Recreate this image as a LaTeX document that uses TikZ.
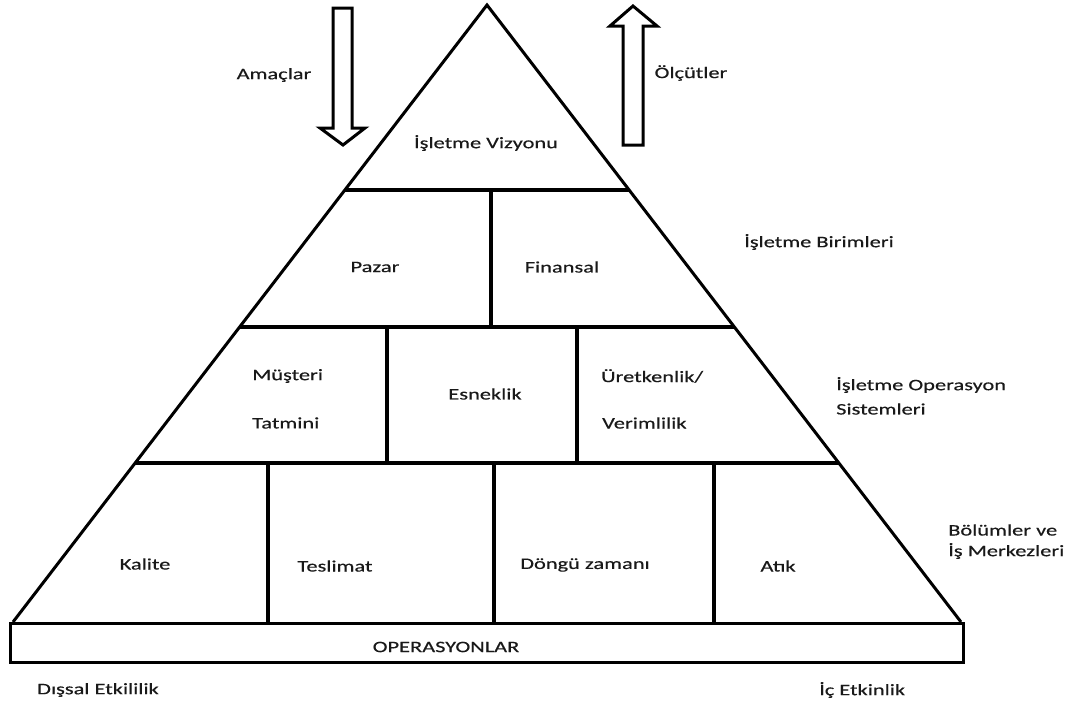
\documentclass[tikz,border=0pt]{standalone}
\usepackage{fontspec}
\setmainfont{Carlito}[FakeStretch=1.4,FakeBold=0.4]
\usetikzlibrary{calc}
\definecolor{ink}{RGB}{25,25,25}
\begin{document}
\begin{tikzpicture}[x=1pt,y=-1pt,
  outline/.style={line width=3pt,line join=miter},
  divider/.style={line width=4pt},
  hollowarrow/.style={line width=3pt,line join=miter,fill=white},
  lbl/.style={inner sep=0pt,text=ink,font=\fontsize{16}{19}\selectfont},
  lblw/.style={lbl,anchor=west}]
\useasboundingbox (0,0) rectangle (1080,704);

% pyramid corners
\coordinate (apex) at (487,5);
\coordinate (bl) at (13,622);
\coordinate (br) at (961,622);

% tier edges on both sides
\coordinate (l1) at ($(apex)!0.2998!(bl)$);
\coordinate (r1) at ($(apex)!0.2998!(br)$);
\coordinate (l2) at ($(apex)!0.5219!(bl)$);
\coordinate (r2) at ($(apex)!0.5219!(br)$);
\coordinate (l3) at ($(apex)!0.7423!(bl)$);
\coordinate (r3) at ($(apex)!0.7423!(br)$);

% operations base
\draw[outline] (10,623) rectangle (963,662);

% pyramid outline
\draw[outline] (bl) -- (apex) -- (br);

% tier separators
\draw[divider] (l1) -- (r1);
\draw[divider] (l2) -- (r2);
\draw[divider] (l3) -- (r3);

% cell separators
\coordinate (d1t) at (491,190); \coordinate (d1b) at (491,327);
\coordinate (d2t) at (387,327); \coordinate (d2b) at (387,463);
\coordinate (d3t) at (577,327); \coordinate (d3b) at (577,463);
\coordinate (d4t) at (268,463); \coordinate (d4b) at (268,622);
\coordinate (d5t) at (494,463); \coordinate (d5b) at (494,622);
\coordinate (d6t) at (714,463); \coordinate (d6b) at (714,622);
\foreach \i in {1,...,6} \draw[divider] (d\i t) -- (d\i b);

% goals flow down, measures flow up
\draw[hollowarrow] (333,8) -- (352,8) -- (352,128) -- (365,128) -- (343,145)
  -- (320,128) -- (333,128) -- cycle;
\draw[hollowarrow] (623,145) -- (643,145) -- (643,26) -- (657,26) -- (633,6)
  -- (610,26) -- (623,26) -- cycle;

% labels
\node[lbl] (amac) at (274,75) {Amaçlar};
\node[lbl] (olcut) at (691,73) {Ölçütler};
\node[lbl] (vizyon) at (486,143) {İşletme Vizyonu};
\node[lblw] (birim) at (744,242) {İşletme Birimleri};
\node[lbl] (pazar) at (375,267) {Pazar};
\node[lbl] (finans) at (562,267) {Finansal};
\node[lblw] (musteri) at (252,376) {Müşteri};
\node[lblw] (tatmin) at (252,423) {Tatmini};
\node[lbl] (esnek) at (485,394) {Esneklik};
\node[lblw] (uretken) at (601,376) {Üretkenlik/};
\node[lblw] (verim) at (602,423) {Verimlilik};
\node[lblw] (opsis1) at (836,385) {İşletme Operasyon};
\node[lblw] (opsis2) at (836,409) {Sistemleri};
\node[lblw] (bolum1) at (948,530) {Bölümler ve};
\node[lblw] (bolum2) at (948,551) {İş Merkezleri};
\node[lbl] (kalite) at (145,564) {Kalite};
\node[lbl] (teslim) at (335,566) {Teslimat};
\node[lbl] (dongu) at (585,565) {Döngü zamanı};
\node[lbl] (atik) at (778,566) {Atık};
\node[lbl] (ops) at (446,647) {OPERASYONLAR};
\node[lblw] (dissal) at (37,690) {Dışsal Etkililik};
\node[lblw] (ic) at (819,690) {İç Etkinlik};
\end{tikzpicture}
\end{document}
